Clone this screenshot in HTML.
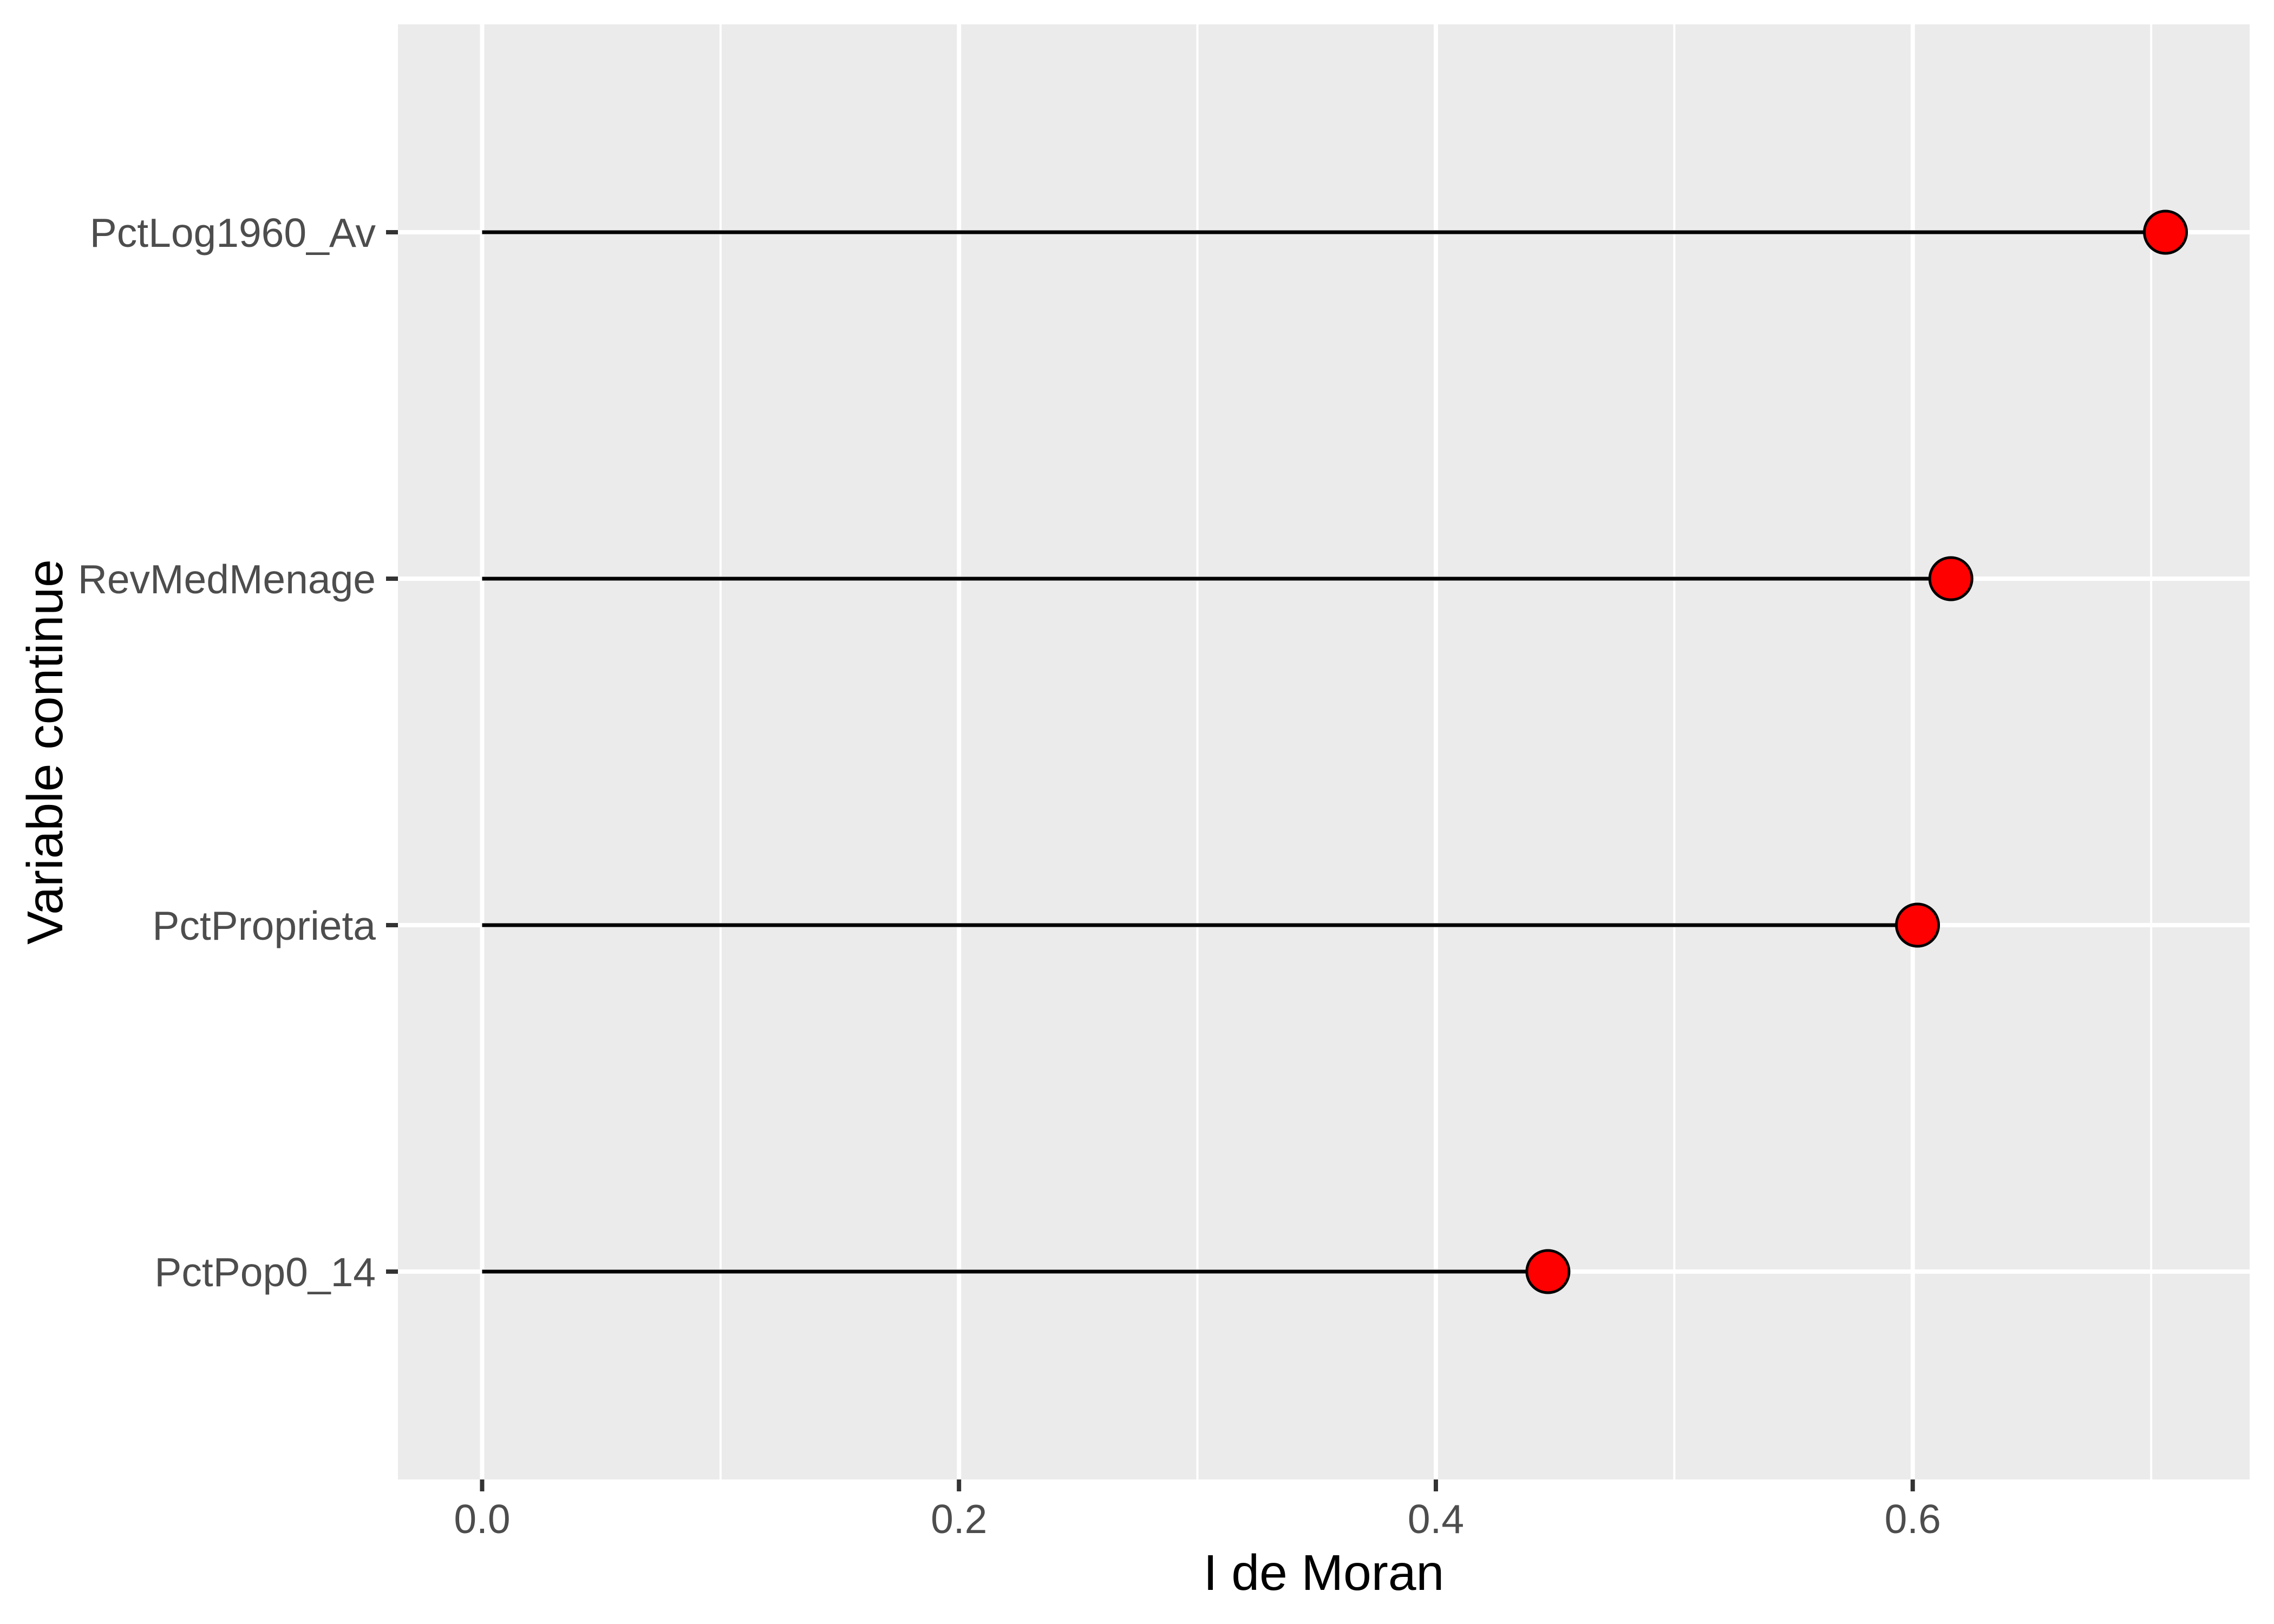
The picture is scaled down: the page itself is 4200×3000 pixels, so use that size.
<!DOCTYPE html>
<html><head><meta charset="utf-8"><style>html,body{margin:0;padding:0;background:#fff}svg{display:block}</style></head>
<body>
<svg id="chart" width="4200" height="3000" viewBox="0 0 4200 3000" xmlns="http://www.w3.org/2000/svg" font-family="Liberation Sans, Arial, sans-serif">
<rect x="0" y="0" width="4200" height="3000" fill="#fff"/>
<rect x="735" y="45" width="3420" height="2688" fill="#ebebeb"/>
<g id="grid"></g><g id="marks"></g><g id="axes"></g>
<text x="2445" y="2937" font-size="93" text-anchor="middle" fill="#000">I de Moran</text>
<text transform="translate(115,1389) rotate(-90)" font-size="93" text-anchor="middle" fill="#000">Variable continue</text>
</svg>
<script>
const categories = ["PctPop0_14", "PctProprieta", "RevMedMenage", "PctLog1960_Av"];
const values = [0.447, 0.602, 0.616, 0.706];
const majorTicks = [0, 0.2, 0.4, 0.6];
const majorLabels = ["0.0", "0.2", "0.4", "0.6"];
const minorTicks = [0.1, 0.3, 0.5, 0.7];

const NS = "http://www.w3.org/2000/svg";
const L = 735, R = 4155, T = 45, B = 2733;
const xmin = -0.0353, xmax = 0.7413;
function xs(v){ return L + (v - xmin) / (xmax - xmin) * (R - L); }
function ys(i){ const n = categories.length; return B - (i + 1 - 0.4) / (n + 0.2) * (B - T); }
function mk(tag, attrs, parent){ const e = document.createElementNS(NS, tag); for (const k in attrs) e.setAttribute(k, attrs[k]); parent.appendChild(e); return e; }
const grid = document.getElementById('grid'), marks = document.getElementById('marks'), axes = document.getElementById('axes');

minorTicks.forEach(v => {
  const l = mk('line', {x1: xs(v), x2: xs(v), y1: T, y2: B, stroke: '#fff', 'stroke-width': 4}, grid);
  
  
});
majorTicks.forEach((v, i) => {
  const l = mk('line', {x1: xs(v), x2: xs(v), y1: T, y2: B, stroke: '#fff', 'stroke-width': 8}, grid);
  
  
  const t = mk('line', {x1: xs(v), x2: xs(v), y1: B, y2: B + 22, stroke: '#333', 'stroke-width': 8}, axes);
  
  
  const tx = mk('text', {x: xs(v), y: 2832, 'font-size': 75, 'text-anchor': 'middle', fill: '#4d4d4d'}, axes);
  tx.textContent = majorLabels[i];
  
  
});
categories.forEach((c, i) => {
  const y = ys(i);
  const g = mk('line', {x1: L, x2: R, y1: y, y2: y, stroke: '#fff', 'stroke-width': 8}, grid);
  
  
  const t = mk('line', {x1: L - 22, x2: L, y1: y, y2: y, stroke: '#333', 'stroke-width': 8}, axes);
  
  
  const tx = mk('text', {x: 694, y: y + 27, 'font-size': 75, 'text-anchor': 'end', fill: '#4d4d4d'}, axes);
  tx.textContent = c;
  
  
  const seg = mk('line', {x1: xs(0), x2: xs(values[i]), y1: y, y2: y, stroke: '#000', 'stroke-width': 7}, marks);
  
  
  const p = mk('circle', {cx: xs(values[i]), cy: y, r: 39, fill: '#ff0000', stroke: '#000', 'stroke-width': 5}, marks);
  
  
});
</script>
</body></html>
